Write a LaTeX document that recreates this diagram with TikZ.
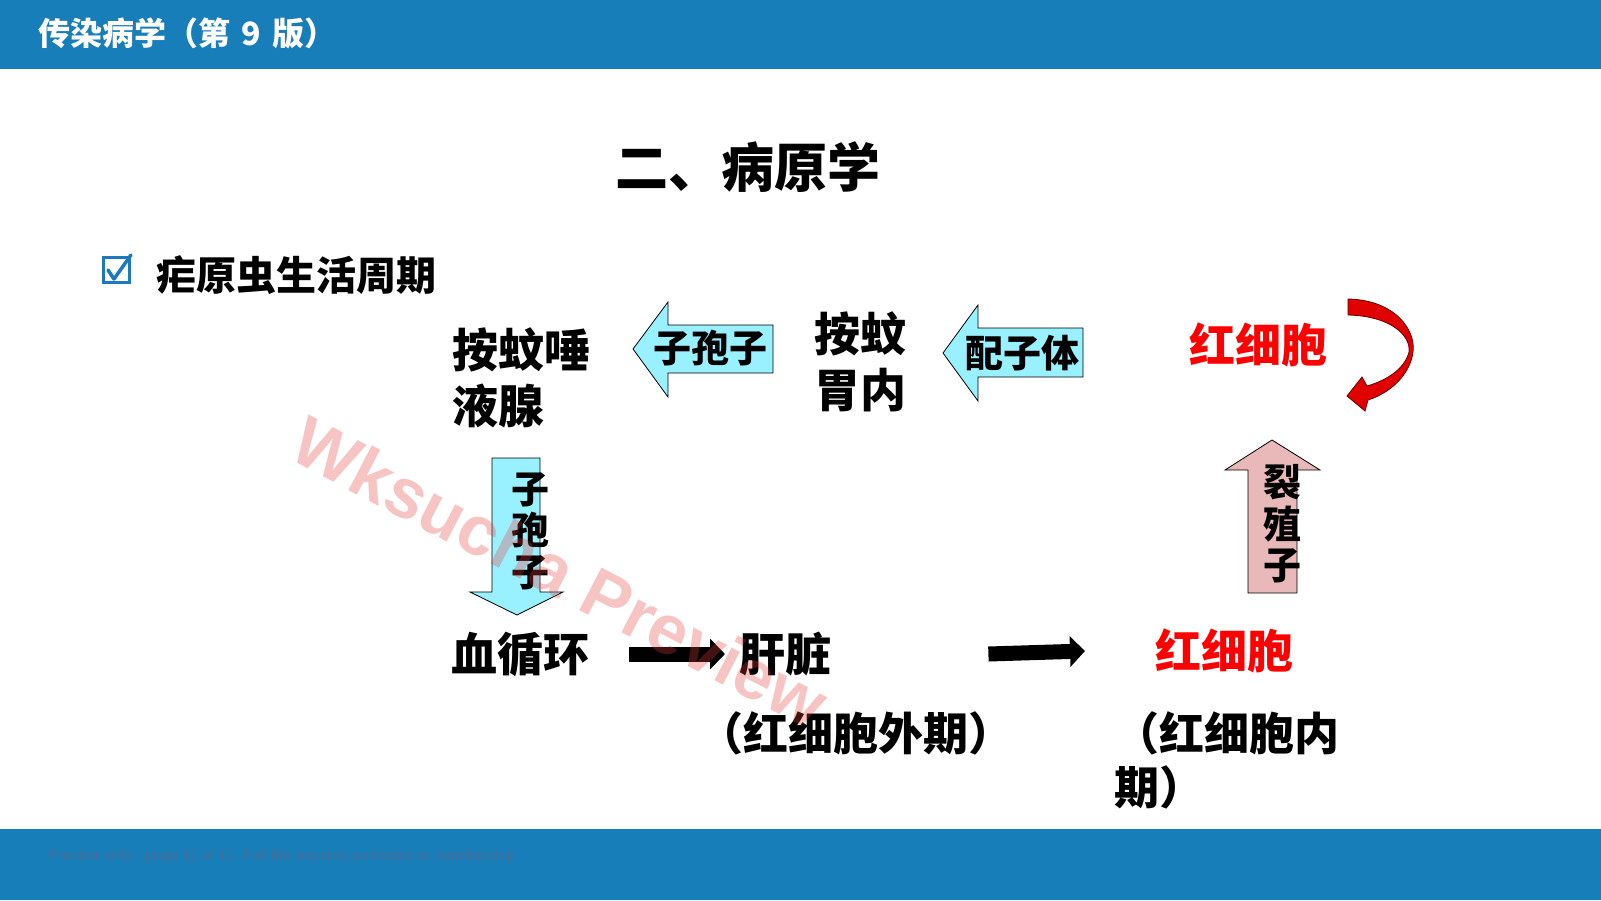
\documentclass[tikz,border=0pt]{standalone}
\usepackage{fontspec}
\setmainfont{Noto Sans CJK SC}
\newfontfamily\wmfont{Liberation Sans}
\usetikzlibrary{arrows.meta}
\definecolor{barblue}{RGB}{24,126,186}
\definecolor{cyanfill}{RGB}{153,240,255}
\definecolor{pinkfill}{RGB}{232,185,184}
\definecolor{checkblue}{RGB}{30,120,190}
\definecolor{wmred}{RGB}{230,60,60}
\definecolor{footgray}{RGB}{70,110,150}
\definecolor{arrred}{RGB}{225,0,0}
\begin{document}
\begin{tikzpicture}[x=1pt,y=-1pt,
  big/.style={font=\bfseries\fontsize{46}{56}\selectfont, inner sep=0pt, anchor=west, align=left},
  arrowtxt/.style={font=\bfseries\fontsize{38}{41.5}\selectfont, inner sep=0pt, align=center},
  blockarrow/.style={draw=black, line width=0.8pt},
  blk/.style={line width=15pt, -{Triangle[length=15pt,width=30pt]}},
]
\useasboundingbox (0,0) rectangle (1601,900);
% bars
\fill[barblue] (0,0) rectangle (1601,69);
\fill[barblue] (0,829) rectangle (1601,900);
\node[anchor=west, text=white, font=\bfseries\fontsize{32}{38}\selectfont, inner sep=0pt] (hdr) at (38,33) {传染病学（第\hspace{4pt} 9 \hspace{4pt}版）};
\node[anchor=west, text=footgray, font=\wmfont\fontsize{14.8}{17}\selectfont, inner sep=0pt] (foot) at (48,857) {Preview only - page 11 of 11. Full file requires purchase or membership};
% title
\node[font=\bfseries\fontsize{53}{60}\selectfont, inner sep=0pt] (title) at (748,167) {二、病原学};
% checkbox + subtitle
\draw[checkblue, line width=3pt] (103,257) rectangle (129,282);
\draw[checkblue, line width=3.5pt, line cap=round, line join=round] (108,270) -- (114,279) -- (131,255);
\node[big, font=\bfseries\fontsize{40}{48}\selectfont] (sub) at (156,275) {疟原虫生活周期};
% main nodes
\node[big] (tuoye) at (452,378) {按蚊唾\\液腺};
\node[big] (weinei) at (814,362) {按蚊\\胃内};
\node[big, text=red] (rbcTop) at (1189,345) {红细胞};
\node[big] (xunhuan) at (451,654) {血循环};
\node[big] (ganzang) at (739,654) {肝脏};
\node[big, text=red] (rbcBot) at (1155,651) {红细胞};
\node[big, font=\bfseries\fontsize{45}{54}\selectfont] (waiqi) at (698,733) {（红细胞外期）};
\node[big, font=\bfseries\fontsize{45}{54}\selectfont] (neiqi) at (1114,760) {（红细胞内\\期）};
% block arrows
\filldraw[blockarrow, fill=cyanfill] (633,349) -- (668,302) -- (668,325) -- (773,325) -- (773,373) -- (668,373) -- (668,397) -- cycle;
\node[arrowtxt] (zbz1) at (710,348) {子孢子};
\filldraw[blockarrow, fill=cyanfill] (943,353) -- (978,305) -- (978,328) -- (1083,328) -- (1083,377) -- (978,377) -- (978,401) -- cycle;
\node[arrowtxt] (pzt) at (1022,353) {配子体};
\filldraw[blockarrow, fill=cyanfill] (492,458) -- (540,458) -- (540,592) -- (563,592) -- (517,615) -- (470,592) -- (492,592) -- cycle;
\node[arrowtxt] (zbz2) at (530,531) {子\\孢\\子};
\filldraw[blockarrow, fill=pinkfill] (1248,593) -- (1248,470) -- (1225,470) -- (1272,440) -- (1320,470) -- (1297,470) -- (1297,593) -- cycle;
\node[arrowtxt] (lzz) at (1282,524) {裂\\殖\\子};
% black arrows
\draw[blk] ([xshift=40pt]xunhuan.east) -- ([xshift=-14pt]ganzang.west);
\draw[blk] ([xshift=157pt]ganzang.east) -- ([xshift=-70pt]rbcBot.west);
% curved red arrow
\filldraw[fill=arrred, draw=black!60!red, line width=0.8pt]
  (1348,299) .. controls (1395,300) and (1416,330) .. (1413,352)
  .. controls (1410,375) and (1390,393) .. (1368,400)
  -- (1365,411) -- (1347,396) -- (1362,377) -- (1367,386)
  .. controls (1388,380) and (1405,368) .. (1409,352)
  .. controls (1411,335) and (1390,316) .. (1348,315) -- cycle;
% watermark
\node[rotate=-27.5, text=wmred, opacity=0.3, font=\wmfont\bfseries\fontsize{70}{74}\selectfont, inner sep=0pt] (wm) at (560,572) {Wksucha Preview};
\end{tikzpicture}
\end{document}
